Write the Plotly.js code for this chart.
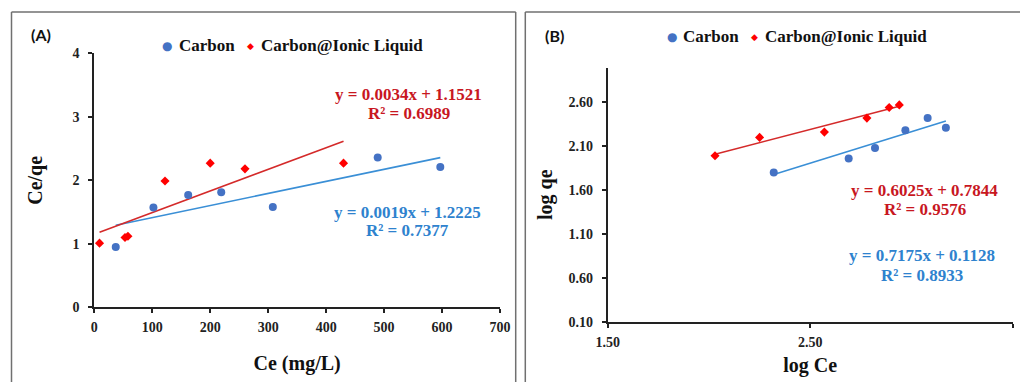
<!DOCTYPE html>
<html>
<head>
<meta charset="utf-8">
<script src="https://cdn.plot.ly/plotly-3.0.1.min.js"></script>
<style>html,body{margin:0;padding:0;background:#fff;}#chart{width:1020px;height:382px;}</style>
</head>
<body>
<div id="chart"></div>
<script>
// ---- Data ----
const seriesNames = ["Carbon", "Carbon@Ionic Liquid"];

// Panel A: Ce/qe vs Ce (mg/L)
const ceCarbon   = [37, 102, 162, 219, 308, 489, 597];
const ceqeCarbon = [0.95, 1.57, 1.77, 1.81, 1.58, 2.36, 2.21];
const ceIL       = [9, 53, 58, 122, 200, 260, 430];
const ceqeIL     = [1.01, 1.10, 1.12, 1.99, 2.27, 2.18, 2.27];

// Panel B: log qe vs log Ce
const logCeCarbon = [2.32, 2.69, 2.82, 2.97, 3.08, 3.17];
const logqeCarbon = [1.80, 1.96, 2.08, 2.28, 2.42, 2.31];
const logCeIL     = [2.03, 2.25, 2.57, 2.78, 2.89, 2.94];
const logqeIL     = [1.99, 2.20, 2.26, 2.42, 2.54, 2.57];

// Linear fits shown on the chart: [slope, intercept, R2]
const fitA_Carbon = [0.0019, 1.2225, 0.7377];
const fitA_IL     = [0.0034, 1.1521, 0.6989];
const fitB_Carbon = [0.7175, 0.1128, 0.8933];
const fitB_IL     = [0.6025, 0.7844, 0.9576];

// ---- Helpers ----
const W = 1020, H = 382;
const px = x => x / W;
const py = y => 1 - y / H;
function fitLine(xs, fit) {
  const x0 = Math.min(...xs), x1 = Math.max(...xs);
  return { x: [x0, x1], y: [fit[0] * x0 + fit[1], fit[0] * x1 + fit[1]] };
}
function eqText(fit) {
  return "y = " + fit[0].toFixed(4) + "x + " + fit[1].toFixed(4);
}
function r2Text(fit) { return "R² = " + fit[2].toFixed(4); }

const SERIF = "Liberation Serif, Times New Roman, serif";
const SYM = "DejaVu Sans, sans-serif";
const BLUE = "#4472C4", RED = "#FF0000";
const BLUE_LINE = "#3A8FD6", RED_LINE = "#D42A2A";
const BLUE_TXT = "#2E82CE", RED_TXT = "#C8171F";

const lA_C = fitLine(ceCarbon, fitA_Carbon);
const lA_I = fitLine(ceIL, fitA_IL);
const lB_C = fitLine(logCeCarbon, fitB_Carbon);
const lB_I = fitLine(logCeIL, fitB_IL);

const traces = [
  { x: lA_C.x, y: lA_C.y, mode: "lines", line: { color: BLUE_LINE, width: 1.6 }, hoverinfo: "skip", xaxis: "x", yaxis: "y" },
  { x: lA_I.x, y: lA_I.y, mode: "lines", line: { color: RED_LINE, width: 1.6 }, hoverinfo: "skip", xaxis: "x", yaxis: "y" },
  { x: ceCarbon, y: ceqeCarbon, name: seriesNames[0], mode: "markers", marker: { color: BLUE, size: 8, symbol: "circle" }, xaxis: "x", yaxis: "y" },
  { x: ceIL, y: ceqeIL, name: seriesNames[1], mode: "markers", marker: { color: RED, size: 7, symbol: "diamond" }, xaxis: "x", yaxis: "y" },

  { x: lB_C.x, y: lB_C.y, mode: "lines", line: { color: BLUE_LINE, width: 1.6 }, hoverinfo: "skip", xaxis: "x2", yaxis: "y2" },
  { x: lB_I.x, y: lB_I.y, mode: "lines", line: { color: RED_LINE, width: 1.6 }, hoverinfo: "skip", xaxis: "x2", yaxis: "y2" },
  { x: logCeCarbon, y: logqeCarbon, name: seriesNames[0], mode: "markers", marker: { color: BLUE, size: 8, symbol: "circle" }, xaxis: "x2", yaxis: "y2" },
  { x: logCeIL, y: logqeIL, name: seriesNames[1], mode: "markers", marker: { color: RED, size: 7, symbol: "diamond" }, xaxis: "x2", yaxis: "y2" }
];

const tickFont = { family: SERIF, size: 14, color: "#222", weight: 700 };
const titleFont = { family: SERIF, size: 20, color: "#111", weight: 700 };
const axBase = {
  showline: true, linecolor: "#222", linewidth: 2, ticks: "outside", ticklen: 4, tickwidth: 2, tickcolor: "#222",
  showgrid: false, zeroline: false, tickfont: tickFont, fixedrange: true
};

const ann = (text, x, y, color, size, family, xanchor) => ({
  text: text, x: px(x), y: py(y), xref: "paper", yref: "paper", showarrow: false,
  xanchor: xanchor || "center", yanchor: "middle",
  font: { family: family || SERIF, size: size || 17, color: color, weight: 700 }
});

// manual legends: [symbol centre x, text start x] per series, and row y
function legendAnns(pos, y) {
  return [
    ann("●", pos[0][0], y, BLUE, 12, SYM),
    ann(seriesNames[0], pos[0][1], y, "#111", 17, SERIF, "left"),
    ann("◆", pos[1][0], y, RED, 9, SYM),
    ann(seriesNames[1], pos[1][1], y, "#111", 17, SERIF, "left")
  ];
}

const layout = {
  width: W, height: H,
  margin: { l: 0, r: 0, t: 0, b: 0 },
  paper_bgcolor: "#fff", plot_bgcolor: "rgba(0,0,0,0)",
  showlegend: false,
  xaxis: Object.assign({}, axBase, {
    domain: [px(94.3), px(500)], range: [0, 700], dtick: 100, tick0: 0, anchor: "y",
    ticklabelstandoff: 2,
    title: { text: "Ce (mg/L)", font: titleFont, standoff: 22 }
  }),
  yaxis: Object.assign({}, axBase, {
    domain: [py(307.3), py(53.3)], range: [0, 4], dtick: 1, tick0: 0, anchor: "x",
    ticklabelstandoff: 6,
    title: { text: "Ce/qe", font: titleFont, standoff: 24 }
  }),
  xaxis2: Object.assign({}, axBase, {
    domain: [px(607.7), px(1012.7)], range: [1.5, 3.5], dtick: 1, tick0: 1.5, tickformat: ".2f", anchor: "y2",
    ticklabelstandoff: 2,
    title: { text: "log Ce", font: titleFont, standoff: 9 }
  }),
  yaxis2: Object.assign({}, axBase, {
    domain: [py(321.7), py(67.7)], range: [0.1, 2.994], dtick: 0.5, tick0: 0.1, tickformat: ".2f", anchor: "x2",
    ticklabelstandoff: 6,
    title: { text: "log qe", font: titleFont, standoff: 10 }
  }),
  shapes: [
    // panel frames
    { type: "line", xref: "paper", yref: "paper", x0: px(11.5), x1: px(515.7), y0: py(12), y1: py(12), line: { color: "#707070", width: 1.5 } },
    { type: "line", xref: "paper", yref: "paper", x0: px(11.5), x1: px(11.5), y0: py(12), y1: py(400), line: { color: "#707070", width: 1.5 } },
    { type: "line", xref: "paper", yref: "paper", x0: px(515.7), x1: px(515.7), y0: py(12), y1: py(400), line: { color: "#707070", width: 1.5 } },
    { type: "line", xref: "paper", yref: "paper", x0: px(525.3), x1: px(1030), y0: py(12), y1: py(12), line: { color: "#707070", width: 1.5 } },
    { type: "line", xref: "paper", yref: "paper", x0: px(525.3), x1: px(525.3), y0: py(12), y1: py(400), line: { color: "#707070", width: 1.5 } }
  ],
  annotations: [
    ann("(A)", 40.5, 34, "#111", 16, "Lato, Open Sans, sans-serif"),
    ann("(B)", 554.5, 36, "#111", 16, "Lato, Open Sans, sans-serif"),
    ann(eqText(fitA_IL), 408.3, 94.3, RED_TXT),
    ann(r2Text(fitA_IL), 409, 113.3, RED_TXT),
    ann(eqText(fitA_Carbon), 407.5, 212, BLUE_TXT),
    ann(r2Text(fitA_Carbon), 407.5, 230.7, BLUE_TXT),
    ann(eqText(fitB_IL), 924.5, 190, RED_TXT),
    ann(r2Text(fitB_IL), 925, 209, RED_TXT),
    ann(eqText(fitB_Carbon), 921.7, 255.7, BLUE_TXT),
    ann(r2Text(fitB_Carbon), 921.5, 275, BLUE_TXT)
  ].concat(
    legendAnns([[167, 177], [250, 259]], 46),
    legendAnns([[672.3, 681], [754.3, 763]], 37)
  )
};

Plotly.newPlot("chart", traces, layout, { displayModeBar: false, staticPlot: true });
</script>
</body>
</html>
